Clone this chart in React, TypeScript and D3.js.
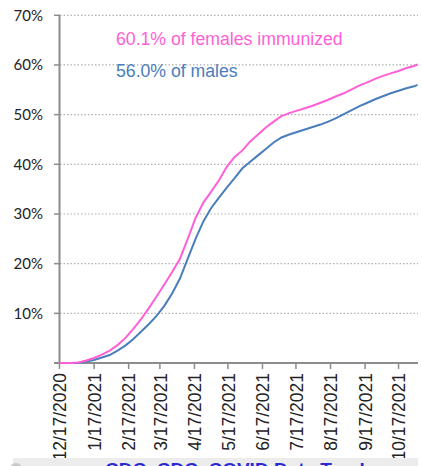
import React from 'react';
import * as d3 from 'd3';

// sampled roughly weekly from the cumulative curves
const dates = [
  '2020-12-17', '2020-12-27', '2021-01-03', '2021-01-10', '2021-01-17', '2021-01-24', '2021-01-31',
  '2021-02-07', '2021-02-14', '2021-02-21', '2021-02-28', '2021-03-07', '2021-03-14', '2021-03-21',
  '2021-03-28', '2021-04-04', '2021-04-11', '2021-04-18', '2021-04-25', '2021-05-02', '2021-05-09',
  '2021-05-16', '2021-05-23', '2021-05-30', '2021-06-06', '2021-06-13', '2021-06-20', '2021-06-27',
  '2021-07-04', '2021-07-11', '2021-07-18', '2021-07-25', '2021-08-01', '2021-08-08', '2021-08-15',
  '2021-08-22', '2021-08-29', '2021-09-05', '2021-09-12', '2021-09-19', '2021-09-26', '2021-10-03',
  '2021-10-10', '2021-10-17', '2021-10-24', '2021-10-31', '2021-11-03',
];

const females = [
  0, 0, 0.1, 0.5, 1.0, 1.7, 2.5, 3.6, 5.0, 6.8, 8.8, 11.0, 13.4, 15.8, 18.3, 21.0, 25.0, 29.2,
  32.3, 34.5, 36.8, 39.5, 41.5, 42.8, 44.6, 46.0, 47.4, 48.6, 49.7, 50.3, 50.8, 51.3, 51.8, 52.4,
  53.0, 53.7, 54.3, 55.1, 55.9, 56.5, 57.2, 57.8, 58.3, 58.8, 59.4, 59.8, 60.1,
];

const males = [
  0, 0, 0.05, 0.3, 0.6, 1.1, 1.6, 2.5, 3.5, 4.8, 6.3, 7.8, 9.5, 11.5, 14.0, 17.0, 21.0, 25.0,
  28.5, 31.2, 33.3, 35.3, 37.2, 39.2, 40.5, 41.8, 43.1, 44.4, 45.4, 46.0, 46.5, 47.0, 47.5, 48.0,
  48.6, 49.3, 50.1, 50.9, 51.7, 52.4, 53.1, 53.7, 54.3, 54.8, 55.3, 55.7, 56.0,
];

const xTickLabels = [
  '12/17/2020', '1/17/2021', '2/17/2021', '3/17/2021', '4/17/2021', '5/17/2021',
  '6/17/2021', '7/17/2021', '8/17/2021', '9/17/2021', '10/17/2021',
];
const yTicks = [10, 20, 30, 40, 50, 60, 70];

const femaleColor = '#ff5fd6';
const maleColor = '#4a7ebb';
const axisColor = '#8c8c8c';

const App: React.FC = () => {
  const width = 422;
  const height = 466;
  const parse = d3.timeParse('%Y-%m-%d');
  const parseTick = d3.timeParse('%m/%d/%Y');

  const x = d3.scaleTime()
    .domain([parse('2020-12-17') as Date, parse('2021-11-03') as Date])
    .range([59.5, 417.5]);
  const y = d3.scaleLinear().domain([0, 70]).range([363, 15.3]);

  const line = d3.line<number>()
    .x((_, i) => x(parse(dates[i]) as Date))
    .y(d => y(d));

  const baseY = y(0);

  return (
    <div style={{ position: 'absolute', left: 0, top: 0 }}>
      <svg width={width} height={height} style={{ display: 'block' }}>
        <rect width={width} height={height} fill="#fff" />

        {yTicks.map(t => (
          <g key={t}>
            <line x1={60} x2={418} y1={y(t)} y2={y(t)} stroke="#b0b0b0" strokeWidth={1.2} strokeDasharray="1.5,2" />
            <line x1={54} x2={60} y1={y(t)} y2={y(t)} stroke={axisColor} strokeWidth={1.5} />
            <text x={43} y={y(t)} dy="0.36em" textAnchor="end" fontFamily="Lato, 'Liberation Sans', sans-serif"
              fontSize={15} fill="#222">{t}%</text>
          </g>
        ))}

        <line x1={59.5} x2={59.5} y1={y(70)} y2={baseY} stroke={axisColor} strokeWidth={2} />
        <line x1={54} x2={418} y1={baseY} y2={baseY} stroke={axisColor} strokeWidth={2} />

        {xTickLabels.map(lbl => {
          const tx = x(parseTick(lbl) as Date);
          return (
            <g key={lbl}>
              <line x1={tx} x2={tx} y1={baseY} y2={baseY + 6} stroke={axisColor} strokeWidth={1.5} />
              <text transform={`translate(${tx},373) rotate(-90) scale(0.92,1)`} dy="0.36em" textAnchor="end"
                fontFamily="'Liberation Sans', Arial, sans-serif" fontSize={19} fill="#222">{lbl}</text>
            </g>
          );
        })}

        <path d={line(males) ?? ''} fill="none" stroke={maleColor} strokeWidth={2} />
        <path d={line(females) ?? ''} fill="none" stroke={femaleColor} strokeWidth={2} />

        <text transform="translate(116,45) scale(0.93,1)" fontFamily="'Liberation Sans', Arial, sans-serif"
          fontSize={19} fill={femaleColor}>60.1% of females immunized</text>
        <text transform="translate(116,77) scale(0.93,1)" fontFamily="'Liberation Sans', Arial, sans-serif"
          fontSize={19} fill={maleColor}>56.0% of males</text>

        <rect x={13} y={458} width={405} height={10} fill="#ececec" />
        <circle cx={16} cy={469} r={6} fill="#c8c8c8" />
        <text x={105} y={476} fontFamily="'Liberation Sans', Arial, sans-serif" fontSize={19} fontWeight="bold"
          fill="#2a2ad0">CDC, CDC, COVID Data Tracker</text>
      </svg>
    </div>
  );
};

export default App;
